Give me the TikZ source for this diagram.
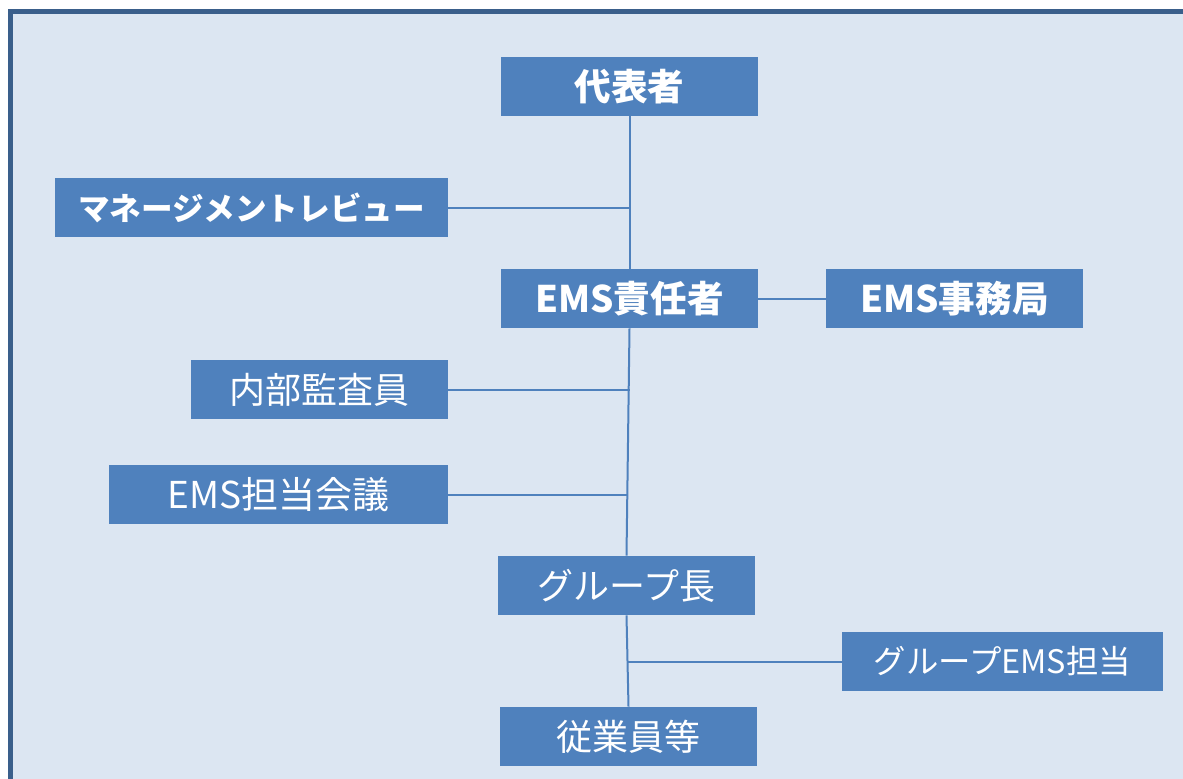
\documentclass[tikz,border=0pt]{standalone}
\usepackage{fontspec}
\newfontfamily\jp{Noto Sans CJK JP}
\definecolor{bgblue}{HTML}{DCE6F2}
\definecolor{boxblue}{HTML}{4F81BD}
\definecolor{frameblue}{HTML}{3A5F8B}
\begin{document}
\begin{tikzpicture}[x=0.5pt,y=-0.5pt,
    box/.style={fill=boxblue,text=white,minimum height=29.5pt,inner sep=0pt,font=\jp\fontsize{18}{20}\selectfont},
    head/.style={box,font=\jp\bfseries\fontsize{18.3}{20}\selectfont},
    link/.style={draw=boxblue,line width=1pt}]
  \useasboundingbox (0,0) rectangle (1183,778);
  \clip (0,0) rectangle (1183,778);
  \fill[bgblue] (10.5,11) rectangle (1200,800);
  \draw[frameblue,line width=2.5pt] (10.5,800) -- (10.5,11) -- (1200,11);
  \node[head,minimum width=128.5pt] (rep) at (629.5,86.5) {代表者};
  \node[head,minimum width=196.5pt,font=\jp\bfseries\fontsize{15.8}{18}\selectfont] (review) at (251.5,207.5) {マネージメントレビュー};
  \node[head,minimum width=128.5pt] (manager) at (629.5,298.5) {EMS責任者};
  \node[head,minimum width=128.5pt] (office) at (954.5,298.5) {EMS事務局};
  \node[box,minimum width=128.5pt] (audit) at (319.5,389.5) {内部監査員};
  \node[box,minimum width=169.5pt,font=\jp\fontsize{18.5}{20}\selectfont] (meeting) at (278.5,494.5) {EMS担当会議};
  \node[box,minimum width=128.5pt] (leader) at (626.5,585.5) {グループ長};
  \node[box,minimum width=160.5pt,font=\jp\fontsize{16.2}{18}\selectfont] (groupems) at (1002.5,661.5) {グループEMS担当};
  \node[box,minimum width=128.5pt] (staff) at (628.5,736.5) {従業員等};
  \coordinate (j1) at (review.east -| rep.south);
  \coordinate (j2) at (audit.east -| manager.south);
  \coordinate (j3) at (meeting.east -| leader.north);
  \coordinate (j4) at (groupems.west -| leader.south);
  \draw[link] (rep) -- (manager);
  \draw[link] (manager.south) -- (leader.north);
  \draw[link] (leader.south) -- (staff.north);
  \draw[link] (review) -- (j1);
  \draw[link] (manager) -- (office);
  \draw[link] (audit) -- (j2);
  \draw[link] (meeting) -- (j3);
  \draw[link] (groupems) -- (j4);
\end{tikzpicture}
\end{document}
